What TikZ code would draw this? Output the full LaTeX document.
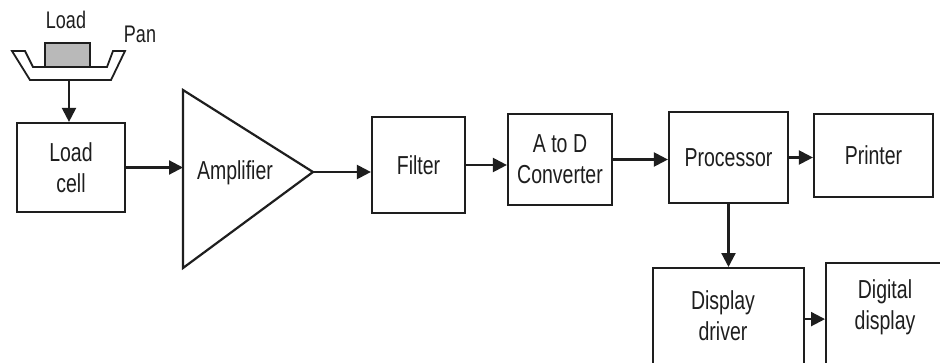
\documentclass[tikz,border=0pt]{standalone}
\usepackage{fontspec}
\setmainfont{Liberation Sans}[FakeStretch=0.75]
\usetikzlibrary{arrows.meta,calc}
\definecolor{ink}{RGB}{30,30,30}
\definecolor{loadgray}{RGB}{185,185,185}
\tikzset{
  blk/.style={draw=ink, line width=2.2pt, rectangle, inner sep=0pt, align=center,
              font=\fontsize{26}{31}\selectfont, text=ink},
  lbl/.style={align=center, inner sep=0pt, font=\fontsize{26}{31}\selectfont, text=ink},
  small/.style={inner sep=0pt, font=\fontsize{24}{28}\selectfont, text=ink},
  flow/.style={draw=ink, line width=2.2pt, -{Triangle[length=14pt,width=14pt]}},
  outline/.style={draw=ink, line width=2.2pt, line join=miter}
}
\begin{document}
\begin{tikzpicture}[x=1pt,y=-1pt]
  \useasboundingbox (0,0) rectangle (940,362);
  \fill[white] (0,0) rectangle (940,362);
  \clip (0,0) rectangle (940,362);

  % weighing pan with the load on it
  \filldraw[outline, fill=loadgray, line width=1.8pt] (45,43) rectangle (90,67);
  \draw[outline, line width=1.8pt] (12,51) -- (25,51) -- (33,67) -- (107,67) -- (113,51)
        -- (125,51) -- (111,80) -- (30,80) -- cycle;
  \coordinate (panbot) at (69,80);
  \node[small] (loadtxt) at (66,20) {Load};
  \node[small] (pantxt) at (140,34) {Pan};

  % signal chain
  \node[blk, minimum width=108, minimum height=89] (cell) at (71,167.5) {Load\\cell};

  \coordinate (ampT) at (183,90);
  \coordinate (ampB) at (183,268);
  \coordinate (ampO) at (313,172);
  \draw[outline] (ampT) -- (ampO) -- (ampB) -- cycle;
  \node[lbl] (amp) at (235,173) {Amplifier};

  \node[blk, minimum width=93, minimum height=96] (filter) at (418.5,165) {Filter};
  \node[blk, minimum width=104, minimum height=91] (adc) at (560,159.5) {A to D\\Converter};
  \node[blk, minimum width=119, minimum height=91] (proc) at (728.5,157.5) {Processor};
  \node[blk, minimum width=119, minimum height=83] (printer) at (873.5,155.5) {Printer};

  % output devices running off the lower edge
  \node[blk, minimum width=151, minimum height=110, anchor=north] (drv) at (728.5,267) {};
  \node[lbl] (drvtxt) at (723,316) {Display\\driver};
  \node[blk, minimum width=130, minimum height=120, anchor=north west] (digi) at (825,262) {};
  \node[lbl] (digitxt) at (885,307) {Digital\\display};

  % connectors
  \draw[flow] (panbot) -- (panbot |- cell.north);
  \draw[flow] (cell.east) -- (cell.east -| ampT);
  \draw[flow] (ampO) -- (ampO -| filter.west);
  \draw[flow] (filter.east) -- (filter.east -| adc.west);
  \draw[flow] (adc.east) -- (adc.east -| proc.west);
  \draw[flow] (proc.east) -- (proc.east -| printer.west);
  \draw[flow] (proc.south) -- (proc.south |- drv.north);
  \draw[flow] ($(drv.east)+(0,-4)$) -- ($(drv.east -| digi.west)+(0,-4)$);
\end{tikzpicture}
\end{document}
